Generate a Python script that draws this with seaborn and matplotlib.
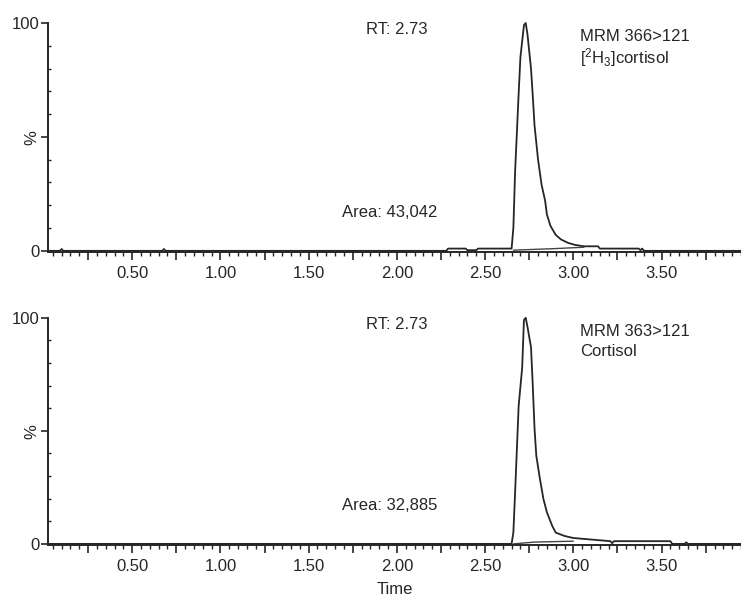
import matplotlib
matplotlib.use("Agg")
import matplotlib.pyplot as plt
from matplotlib.ticker import MultipleLocator
import seaborn as sns
import pandas as pd

# MRM 366>121, [2H3]cortisol (internal standard)
time_d3 = [0.03, 0.09, 0.10, 0.11, 0.67, 0.68, 0.69, 2.28, 2.29, 2.39, 2.40, 2.45, 2.46,
           2.65, 2.66, 2.67, 2.69, 2.70, 2.72, 2.73, 2.74, 2.76, 2.77, 2.78, 2.80, 2.82,
           2.84, 2.85, 2.87, 2.90, 2.93, 2.97, 3.01, 3.06, 3.14, 3.15, 3.37, 3.38, 3.39,
           3.40, 3.96]
int_d3 = [0, 0, 0.8, 0, 0, 0.8, 0, 0, 1.0, 1.0, 0.3, 0.3, 1.0,
          1.0, 10, 35, 69, 85, 99, 100, 95, 80, 68, 55, 40, 29,
          22, 16, 11, 7, 5, 3.5, 2.6, 2.0, 2.0, 1.0, 1.0, 0.3, 1.0,
          0, 0]
base_time_d3 = [2.66, 2.90, 3.06]
base_int_d3 = [0.3, 1.0, 1.6]

# MRM 363>121, cortisol
time_f = [0.03, 2.30, 2.65, 2.66, 2.67, 2.69, 2.71, 2.72, 2.73, 2.74, 2.76, 2.77, 2.78,
          2.79, 2.81, 2.83, 2.85, 2.88, 2.90, 2.95, 3.00, 3.09, 3.21, 3.22, 3.23, 3.26,
          3.55, 3.56, 3.63, 3.64, 3.65, 3.96]
int_f = [0, 0, 0, 5, 23, 61, 78, 99, 100, 96, 87, 70, 51,
         39, 29, 20, 14, 8, 5, 3.5, 2.6, 2.0, 1.2, 0.3, 1.2, 1.2,
         1.2, 0, 0, 0.7, 0, 0]
base_time_f = [2.66, 2.78, 3.00]
base_int_f = [0, 0.8, 1.2]

rt_labels = ["RT: 2.73", "RT: 2.73"]
area_labels = ["Area: 43,042", "Area: 32,885"]
mrm_labels = ["MRM 366>121", "MRM 363>121"]
cmpd_labels = ["[$^2$H$_3$]cortisol", "Cortisol"]

x_ticks = [0.25, 0.50, 0.75, 1.00, 1.25, 1.50, 1.75, 2.00, 2.25, 2.50, 2.75, 3.00,
           3.25, 3.50, 3.75]
x_tick_labels = ["", "0.50", "", "1.00", "", "1.50", "", "2.00", "", "2.50", "", "3.00",
                 "", "3.50", ""]
y_ticks = [0, 50, 100]
y_tick_labels = ["0", "", "100"]

sns.set_style("ticks")
plt.rcParams["font.family"] = ["Liberation Sans", "DejaVu Sans"]
plt.rcParams["mathtext.default"] = "regular"
plt.rcParams["mathtext.fontset"] = "custom"
plt.rcParams["mathtext.rm"] = "Liberation Sans"

ink = "#262626"
fs = 12

fig = plt.figure(figsize=(7.41, 5.98), dpi=100)
ax_top = fig.add_axes([0.0648, 0.5786, 0.9352, 0.383])
ax_bot = fig.add_axes([0.0648, 0.0886, 0.9352, 0.380])

traces = [
    (ax_top, time_d3, int_d3, base_time_d3, base_int_d3),
    (ax_bot, time_f, int_f, base_time_f, base_int_f),
]

for i, (ax, t, y, bt, by) in enumerate(traces):
    df = pd.DataFrame({"time": t, "intensity": y})
    sns.lineplot(data=df, x="time", y="intensity", ax=ax, color=ink, lw=1.3,
                 estimator=None, sort=False, clip_on=False)
    bdf = pd.DataFrame({"time": bt, "intensity": by})
    sns.lineplot(data=bdf, x="time", y="intensity", ax=ax, color="#444444", lw=1.0,
                 estimator=None, sort=False)

    ax.set_xlim(0.023, 3.95)
    ax.set_ylim(-0.5, 100)
    sns.despine(ax=ax)
    for s in ["left", "bottom"]:
        ax.spines[s].set_color(ink)
        ax.spines[s].set_linewidth(1.4)

    ax.set_xticks(x_ticks)
    ax.set_xticklabels(x_tick_labels, fontsize=fs, color=ink)
    ax.xaxis.set_minor_locator(MultipleLocator(0.05))
    ax.tick_params(axis="x", which="major", direction="out", length=6, width=1.2,
                   color=ink, pad=4)
    ax.tick_params(axis="x", which="minor", direction="out", length=3, width=1.0,
                   color=ink)

    ax.set_yticks(y_ticks)
    ax.set_yticklabels(y_tick_labels, fontsize=fs, color=ink)
    ax.yaxis.set_minor_locator(MultipleLocator(10))
    ax.tick_params(axis="y", which="major", direction="out", length=5, width=1.2,
                   color=ink, pad=1)
    ax.tick_params(axis="y", which="minor", direction="in", length=2, width=1.0,
                   color=ink)

    ax.set_ylabel("%", fontsize=fs, color=ink, va="center")
    ax.yaxis.set_label_coords(-0.023, 0.5)
    ax.set_xlabel("")

    ax.text(2.00, 97, rt_labels[i], fontsize=fs, color=ink, ha="center", va="center")
    ax.text(2.23, 17, area_labels[i], fontsize=fs, color=ink, ha="right", va="center")
    ax.text(3.04, 94, mrm_labels[i], fontsize=fs, color=ink, ha="left", va="center")
    ax.text(3.04, 85, cmpd_labels[i], fontsize=fs, color=ink, ha="left", va="center")

ax_bot.set_xlabel("Time", fontsize=fs, color=ink, labelpad=6)

fig.savefig("out.png", dpi=100)
